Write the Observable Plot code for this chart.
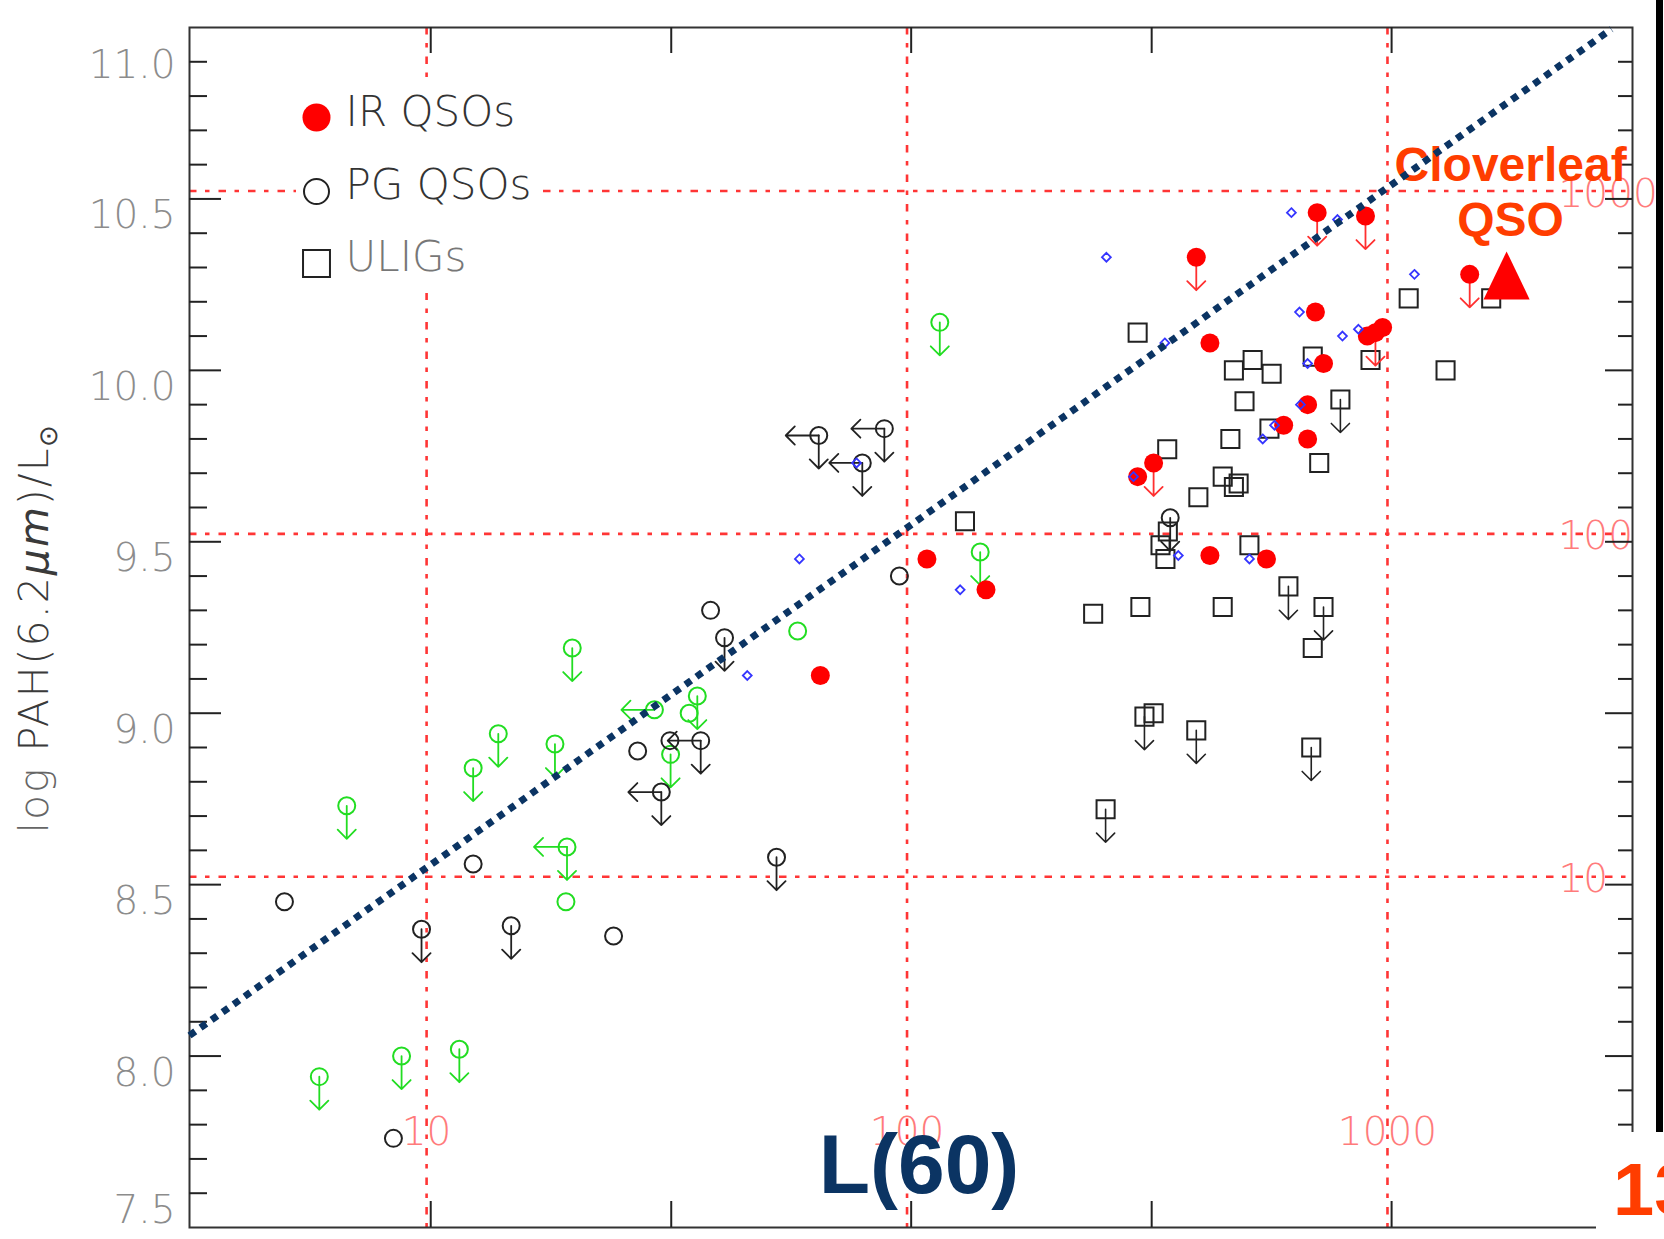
<!DOCTYPE html>
<html>
<head>
<meta charset="utf-8">
<script src="https://cdn.jsdelivr.net/npm/d3@7"></script>
<script src="https://cdn.jsdelivr.net/npm/@observablehq/plot@0.6"></script>
<style>
  html, body { margin: 0; padding: 0; background: #fff; }
  #chart { width: 1664px; height: 1239px; overflow: hidden; }
</style>
</head>
<body>
<div id="chart"></div>
<script>
// ---- values: [L(60), log PAH(6.2um)/Lsun, limit flags: d = upper limit, l = left limit]
const irQsos = [
  [400, 10.33, "d"], [714, 10.46, "d"], [900, 10.45, "d"], [1483, 10.28, "d"],
  [708, 10.17, ""], [427, 10.08, ""], [908, 10.10, ""], [944, 10.11, "d"],
  [977, 10.125, ""], [736, 10.02, ""], [682, 9.90, ""], [608, 9.84, ""],
  [682, 9.80, ""], [326, 9.73, "d"], [302, 9.69, ""], [427, 9.46, ""],
  [560, 9.45, ""], [110, 9.45, ""], [146, 9.36, ""], [66, 9.11, ""]
];
const cloverleaf = [[1770, 10.277]];

const pgQsos = [
  [5.06, 8.45, ""], [8.53, 7.76, ""], [9.76, 8.37, "d"], [12.5, 8.56, ""],
  [15.0, 8.38, "d"], [24.5, 8.35, ""], [27.5, 8.89, ""], [30.8, 8.77, "dl"],
  [32.1, 8.92, ""], [37.2, 8.92, "dl"], [39.0, 9.30, ""], [41.7, 9.22, "d"],
  [53.5, 8.58, "d"], [65.5, 9.81, "dl"], [80.7, 9.73, "dl"], [89.7, 9.83, "dl"],
  [96.4, 9.40, ""], [353, 9.57, "d"]
];

const greenSample = [
  [5.98, 7.94, "d"], [6.82, 8.73, "d"], [8.87, 8.00, "d"], [11.7, 8.02, "d"],
  [12.5, 8.84, "d"], [14.1, 8.94, "d"], [18.5, 8.91, "d"], [19.6, 8.61, "dl"],
  [19.5, 8.45, ""], [20.1, 9.19, "d"], [29.8, 9.01, "l"], [32.2, 8.88, "d"],
  [35.2, 9.00, ""], [36.6, 9.05, "d"], [59.2, 9.24, ""], [117, 10.14, "d"],
  [142, 9.47, "d"]
];

const blueSample = [
  [260, 10.33], [631, 10.46], [787, 10.44], [1138, 10.28], [656, 10.17],
  [344, 10.08], [806, 10.10], [870, 10.12], [682, 10.02], [659, 9.90],
  [582, 9.84], [550, 9.80], [296, 9.69], [367, 9.46], [516, 9.45],
  [59.7, 9.45], [46.5, 9.11], [129, 9.36], [78.5, 9.73]
];

const uligs = [
  [302, 10.11, ""], [479, 10.00, ""], [524, 10.03, ""], [574, 9.99, ""],
  [699, 10.04, ""], [922, 10.03, ""], [1107, 10.21, ""], [1644, 10.21, ""],
  [1321, 10.00, ""], [504, 9.91, ""], [798, 9.915, "d"], [568, 9.83, ""],
  [471, 9.80, ""], [721, 9.73, ""], [348, 9.77, ""], [454, 9.69, ""],
  [490, 9.67, ""], [479, 9.66, ""], [404, 9.63, ""], [349, 9.53, ""],
  [337, 9.49, ""], [345, 9.45, ""], [516, 9.49, ""], [622, 9.37, "d"],
  [736, 9.31, "d"], [699, 9.19, ""], [454, 9.31, ""], [306, 9.31, ""],
  [244, 9.29, ""], [132, 9.56, ""], [312, 8.99, "d"], [326, 9.00, ""],
  [400, 8.95, "d"], [694, 8.90, "d"], [259, 8.72, "d"]
];

// dotted relation across the panel: [L(60), log PAH]
const relation = [[3.21, 8.06], [2924, 10.995]];

// red overlay grid (L(60) on both axes)
const gridValues = [10, 100, 1000];
const gridLabels = ["10", "100", "1000"];
const gridYOffset = 7.523; // log PAH at which log10(grid value) = 0

// black axis ticks
const yMajor = [8.0, 8.5, 9.0, 9.5, 10.0, 10.5];
const yMajorLabels = ["8.0", "8.5", "9.0", "9.5", "10.0", "10.5"];
const yTopLabel = ["11.0"];
const yBottomLabel = ["7.5"];
const yMinor = [7.6, 7.7, 7.8, 7.9, 8.1, 8.2, 8.3, 8.4, 8.6, 8.7, 8.8, 8.9,
  9.1, 9.2, 9.3, 9.4, 9.6, 9.7, 9.8, 9.9, 10.1, 10.2, 10.3, 10.4, 10.6, 10.7, 10.8, 10.9];
const xTicks = [10.2, 32.3, 102, 323, 1020];

// ---- layout & style
const W = 1664, H = 1239;
const M = {left: 189, right: 32, top: 27, bottom: 12};
const innerW = W - M.left - M.right;
const innerH = H - M.top - M.bottom;

const RED = "#ff0000", GREEN = "#22dd22", BLUE = "#3535ff", INK = "#222";
const NAVY = "#0b3463", ORANGE = "#ff3d00", GRID = "#ff3535";
const thin = "DejaVu Sans";

const X = d => d[0], Y = d => d[1];
const isDown = d => d[2].includes("d");
const isLeft = d => d[2].includes("l");

const gridY = v => Math.log10(v) + gridYOffset;

const cloverSymbol = {
  draw(ctx, size) {
    const a = Math.sqrt(size / Math.PI);
    ctx.moveTo(0, -a);
    ctx.lineTo(0.96 * a, a);
    ctx.lineTo(-0.96 * a, a);
    ctx.closePath();
  }
};

function limitArrows(data, stroke, width = 1.8) {
  return [
    Plot.vector(data.filter(isDown), {x: X, y: Y, rotate: 180, length: 33, anchor: "start", r: 4.8, stroke, strokeWidth: width}),
    Plot.vector(data.filter(isLeft), {x: X, y: Y, rotate: 270, length: 33, anchor: "start", r: 4.8, stroke, strokeWidth: width})
  ];
}

// white panel behind the legend entries
function legendPanel(index, scales, values, dims) {
  const r = document.createElementNS("http://www.w3.org/2000/svg", "rect");
  r.setAttribute("x", dims.marginLeft + 107);
  r.setAttribute("y", dims.marginTop + 56);
  r.setAttribute("width", 240);
  r.setAttribute("height", 210);
  r.setAttribute("fill", "white");
  return r;
}

const chart = Plot.plot({
  width: W,
  height: H,
  marginLeft: M.left,
  marginRight: M.right,
  marginTop: M.top,
  marginBottom: M.bottom,
  style: {background: "white", overflow: "visible"},
  x: {type: "log", domain: [3.21, 3236], axis: null},
  y: {domain: [7.5, 11.0], axis: null},
  marks: [
    // red overlay grid
    Plot.ruleX(gridValues, {x: d => d, stroke: GRID, strokeWidth: 2.6, strokeDasharray: "7.5 8.5 4.5 9"}),
    Plot.ruleY(gridValues, {y: gridY, stroke: GRID, strokeWidth: 2.6, strokeDasharray: "7.5 8.5 4.5 9"}),
    Plot.text(gridValues, {x: d => d, text: (d, i) => gridLabels[i], frameAnchor: "bottom", dy: -83,
      fill: "#ff7b7b", fontSize: 39, fontFamily: thin, fontWeight: 200}),
    Plot.text(gridValues, {y: gridY, text: (d, i) => gridLabels[i], frameAnchor: "right", textAnchor: "start",
      dx: -74, dy: 3, fill: "#ff7b7b", fontSize: 39, fontFamily: thin, fontWeight: 200}),

    // frame and ticks
    Plot.frame({stroke: "#333", strokeWidth: 2}),
    Plot.tickY(yMinor, {y: d => d, insetRight: innerW - 18, stroke: INK, strokeWidth: 2}),
    Plot.tickY(yMajor, {y: d => d, insetRight: innerW - 32, stroke: INK, strokeWidth: 2}),
    Plot.tickY(yMinor, {y: d => d, insetLeft: innerW - 14, stroke: INK, strokeWidth: 2}),
    Plot.tickY(yMajor, {y: d => d, insetLeft: innerW - 27, stroke: INK, strokeWidth: 2}),
    Plot.tickX(xTicks, {x: d => d, insetBottom: innerH - 26, stroke: INK, strokeWidth: 2}),
    Plot.tickX(xTicks, {x: d => d, insetTop: innerH - 26, stroke: INK, strokeWidth: 2}),

    // y tick labels
    Plot.text(yMajor, {y: d => d, text: (d, i) => yMajorLabels[i], frameAnchor: "left", textAnchor: "end",
      dx: -14, dy: 17, fill: "#8c8c8c", fontSize: 39, fontFamily: thin, fontWeight: 200}),
    Plot.text([11.0], {y: d => d, text: () => yTopLabel[0], frameAnchor: "left", textAnchor: "end",
      dx: -14, dy: 38, fill: "#8c8c8c", fontSize: 39, fontFamily: thin, fontWeight: 200}),
    Plot.text([7.5], {y: d => d, text: () => yBottomLabel[0], frameAnchor: "left", textAnchor: "end",
      dx: -14, dy: -17, fill: "#8c8c8c", fontSize: 39, fontFamily: thin, fontWeight: 200}),

    // legend
    legendPanel,
    Plot.dot([0], {frameAnchor: "top-left", dx: 127, dy: 90, r: 14, fill: RED}),
    Plot.dot([0], {frameAnchor: "top-left", dx: 127, dy: 164, r: 12.5, stroke: INK, strokeWidth: 2, fill: "none"}),
    Plot.dot([0], {frameAnchor: "top-left", dx: 127, dy: 236, r: 15.2, symbol: "square", stroke: INK, strokeWidth: 2, fill: "none"}),
    Plot.text(["IR QSOs"], {frameAnchor: "top-left", dx: 156, dy: 98, lineAnchor: "bottom", textAnchor: "start",
      text: d => d, fill: "#333", fontSize: 42, fontFamily: thin, fontWeight: 200, wordSpacing: 6}),
    Plot.text(["PG QSOs"], {frameAnchor: "top-left", dx: 156, dy: 171, lineAnchor: "bottom", textAnchor: "start",
      text: d => d, fill: "#333", fontSize: 42, fontFamily: thin, fontWeight: 200, wordSpacing: 6}),
    Plot.text(["ULIGs"], {frameAnchor: "top-left", dx: 156, dy: 243, lineAnchor: "bottom", textAnchor: "start",
      text: d => d, fill: "#777", fontSize: 42, fontFamily: thin, fontWeight: 200}),

    // ULIGs
    ...limitArrows(uligs, INK, 1.6),
    Plot.dot(uligs, {x: X, y: Y, r: 10.2, symbol: "square", stroke: INK, strokeWidth: 2, fill: "none"}),

    // open-circle samples
    ...limitArrows(greenSample, GREEN),
    Plot.dot(greenSample, {x: X, y: Y, r: 8.5, stroke: GREEN, strokeWidth: 2, fill: "none"}),
    ...limitArrows(pgQsos, INK),
    Plot.dot(pgQsos, {x: X, y: Y, r: 8.5, stroke: INK, strokeWidth: 2, fill: "none"}),

    // IR QSOs
    ...limitArrows(irQsos, "#ff3030"),
    Plot.dot(irQsos, {x: X, y: Y, r: 9.5, fill: RED}),
    Plot.dot(blueSample, {x: X, y: Y, r: 4, symbol: "diamond2", stroke: BLUE, strokeWidth: 1.8, fill: "none"}),

    // Cloverleaf
    Plot.dot(cloverleaf, {x: X, y: Y, r: 24, symbol: cloverSymbol, fill: RED}),
    Plot.text(cloverleaf, {x: X, y: Y, text: () => "Cloverleaf\nQSO", dx: 4, dy: -39, lineAnchor: "bottom",
      lineHeight: 1.146, fill: ORANGE, fontSize: 48, fontWeight: "bold", fontFamily: "Liberation Sans"}),

    // dotted relation
    Plot.line(relation, {x: X, y: Y, stroke: NAVY, strokeWidth: 7, strokeDasharray: "7 6.5", strokeLinecap: "butt"}),

    // axis name
    Plot.text(["L(60)"], {text: d => d, frameAnchor: "bottom", dx: 8, dy: -35, lineAnchor: "bottom",
      fill: NAVY, fontSize: 84, fontWeight: "bold", fontFamily: "Liberation Sans"})
  ]
});

document.getElementById("chart").appendChild(chart);

// y-axis title with italic micron and solar subscript
const svg = d3.select(chart);
const title = svg.append("text")
  .attr("transform", "translate(48,628) rotate(-90)")
  .attr("text-anchor", "middle")
  .attr("font-family", thin)
  .attr("font-weight", 200)
  .attr("font-size", 41)
  .attr("letter-spacing", 2)
  .attr("fill", "#666");
title.append("tspan").text("log ");
title.append("tspan").attr("fill", "#3a3a3a").text("PAH(6.2");
title.append("tspan").attr("fill", "#3a3a3a").attr("font-style", "italic").text("\u03bcm");
title.append("tspan").attr("fill", "#3a3a3a").text(")/L");
title.append("tspan").attr("fill", "#3a3a3a").attr("font-size", 26).attr("dy", 9).text("\u2299");

// slide edge and page number
svg.append("rect").attr("x", 1596).attr("y", 1132).attr("width", 68).attr("height", 107).attr("fill", "white");
svg.append("rect").attr("x", 1656).attr("y", 0).attr("width", 7).attr("height", 1132).attr("fill", "#000");
svg.append("text").attr("x", 1613).attr("y", 1215).attr("text-anchor", "start")
  .attr("font-family", "Liberation Sans").attr("font-weight", "bold").attr("font-size", 74)
  .attr("fill", ORANGE).text("13");
</script>
</body>
</html>
